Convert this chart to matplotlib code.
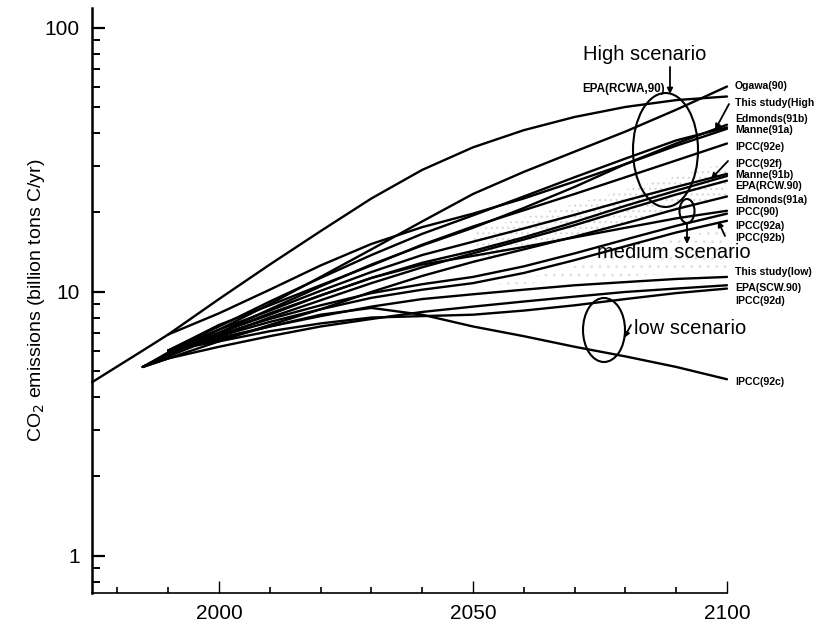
import numpy as np
import matplotlib
matplotlib.use("Agg")
import matplotlib.pyplot as plt
from matplotlib.patches import Ellipse

plt.rcParams['font.family'] = ['Liberation Sans', 'DejaVu Sans']
plt.rcParams['hatch.linewidth'] = 0.8

# ---------------- data ----------------
YEARS = [1975, 1985, 1990, 2000, 2010, 2020, 2030, 2040, 2050, 2060, 2070, 2080, 2090, 2100]
nan = np.nan
EPA_RCWA_90 = [4.55, 6.0, 6.9, 9.4, 12.7, 17.0, 22.6, 29.0, 35.3, 41.0, 46.0, 50.2, 53.3, 55.0]
OGAWA_90    = [nan, 5.2, 5.8, 7.2, 9.0, 11.4, 14.5, 18.5, 23.5, 28.5, 34.0, 40.5, 49.0, 60.0]
THIS_HIGH   = [nan, nan, 6.0, 7.4, 9.2, 11.3, 13.8, 16.6, 19.5, 23.0, 27.2, 32.0, 37.5, 42.0]
EDMONDS_91B = [nan, 5.2, 5.8, 7.0, 8.6, 10.5, 12.7, 15.0, 17.5, 20.8, 25.0, 30.5, 36.5, 43.0]
MANNE_91A   = [nan, nan, 6.9, 8.3, 10.2, 12.6, 15.2, 17.6, 19.8, 22.6, 26.2, 30.5, 35.8, 41.5]
IPCC_92E    = [nan, nan, 6.0, 7.5, 8.9, 10.6, 12.6, 15.1, 17.7, 20.4, 23.5, 27.2, 31.5, 36.5]
IPCC_92F    = [nan, nan, 6.0, 7.2, 8.5, 10.1, 11.9, 13.8, 15.5, 17.4, 19.6, 22.2, 25.0, 28.0]
MANNE_91B   = [nan, 5.2, 5.8, 7.0, 8.2, 9.7, 11.3, 12.9, 14.3, 16.1, 18.4, 21.2, 24.2, 27.5]
EPA_RCW_90  = [nan, 5.2, 5.7, 6.8, 8.0, 9.3, 10.8, 12.4, 14.0, 15.8, 17.9, 20.5, 23.4, 26.4]
EDMONDS_91A = [nan, 5.2, 5.6, 6.5, 7.5, 8.6, 10.0, 11.5, 13.0, 14.5, 16.2, 18.2, 20.6, 23.0]
IPCC_90     = [nan, 5.2, 5.9, 7.0, 8.3, 9.7, 11.3, 12.7, 13.7, 14.8, 16.1, 17.5, 19.0, 20.3]
IPCC_92A    = [nan, nan, 6.0, 6.9, 7.9, 8.9, 9.9, 10.7, 11.4, 12.5, 14.0, 15.8, 17.8, 19.8]
IPCC_92B    = [nan, nan, 6.0, 6.8, 7.7, 8.6, 9.5, 10.2, 10.8, 11.8, 13.2, 14.9, 16.8, 18.6]
THIS_LOW    = [nan, nan, 6.0, 6.7, 7.4, 8.1, 8.8, 9.4, 9.8, 10.2, 10.6, 10.9, 11.2, 11.4]
EPA_SCW_90  = [nan, 5.2, 5.6, 6.2, 6.8, 7.4, 7.9, 8.4, 8.8, 9.2, 9.6, 10.0, 10.3, 10.6]
IPCC_92D    = [nan, nan, 6.0, 6.5, 7.1, 7.6, 8.0, 8.1, 8.2, 8.5, 8.9, 9.4, 9.9, 10.3]
IPCC_92C    = [nan, nan, 6.0, 6.6, 7.4, 8.2, 8.7, 8.2, 7.4, 6.8, 6.2, 5.7, 5.2, 4.67]

SERIES = [EPA_RCWA_90, OGAWA_90, THIS_HIGH, EDMONDS_91B, MANNE_91A, IPCC_92E,
          IPCC_92F, MANNE_91B, EPA_RCW_90, EDMONDS_91A, IPCC_90, IPCC_92A,
          IPCC_92B, THIS_LOW, EPA_SCW_90, IPCC_92D, IPCC_92C]

RIGHT_LABELS = ["Ogawa(90)", "This study(High", "Edmonds(91b)", "Manne(91a)",
                "IPCC(92e)", "IPCC(92f)", "Manne(91b)", "EPA(RCW.90)",
                "Edmonds(91a)", "IPCC(90)", "IPCC(92a)", "IPCC(92b)",
                "This study(low)", "EPA(SCW.90)", "IPCC(92d)", "IPCC(92c)"]
LABEL_ROWS = [86, 103, 119, 130, 147, 164, 175, 186, 200, 212, 226, 238,
              272, 288, 301, 382]          # pixel rows of the labels

X_TICKS = [2000, 2050, 2100]
Y_TICKS = [1, 10, 100]

# ---------------- figure ----------------
W, H = 822, 624
fig = plt.figure(figsize=(W / 100, H / 100), dpi=100)
ax = fig.add_axes([92 / W, (H - 593) / H, (727 - 92) / W, (593 - 8) / H])

yrs = np.array(YEARS, dtype=float)
for s in SERIES:
    v = np.array(s, dtype=float)
    m = ~np.isnan(v)
    ax.plot(yrs[m], v[m], color='black', lw=1.7, solid_capstyle='round',
            solid_joinstyle='round', clip_on=False)

# faint stipple of the medium scenario
yy = yrs[8:]
ax.fill_between(yy, np.array(EDMONDS_91A[8:]), np.array(IPCC_92F[8:]) * 1.1,
                facecolor='none', edgecolor='#d6d6d6', hatch='...', lw=0)
ax.fill_between(yy, np.array(THIS_LOW[8:]) * 1.05, np.array(IPCC_92B[8:]) * 0.95,
                facecolor='none', edgecolor='#e0e0e0', hatch='..', lw=0)

ax.set_yscale('log')
ax.set_xlim(1975, 2100)
ax.set_ylim(0.724, 119)
ax.set_xticks(X_TICKS)
ax.set_xticklabels([str(t) for t in X_TICKS])
ax.set_xticks(np.arange(1980, 2100, 10), minor=True)
ax.set_yticks(Y_TICKS)
ax.set_yticklabels([str(t) for t in Y_TICKS])
ax.tick_params(axis='both', which='major', direction='in', labelsize=15,
               length=9, width=1.0)
ax.tick_params(axis='x', which='major', pad=8)
ax.tick_params(axis='y', which='major', pad=9, width=1.6)
ax.tick_params(axis='both', which='minor', direction='in', length=4.5, width=1.2)
ax.tick_params(axis='y', which='minor', length=5.5, width=1.4)

for sp in ['top', 'right']:
    ax.spines[sp].set_visible(False)
ax.spines['left'].set_linewidth(1.8)
ax.spines['bottom'].set_linewidth(1.2)

ax.set_ylabel('CO$_2$ emissions (billion tons C/yr)', fontsize=14)
ax.yaxis.set_label_coords((47 - 92) / (727 - 92), (593 - 300) / (593 - 8))

# ---------------- annotations (figure pixel coordinates) ----------------
def P(x, y):
    return (x, H - y)

for lab, row in zip(RIGHT_LABELS, LABEL_ROWS):
    fig.text(735 / W, (H - row) / H, lab, fontsize=7.6, fontweight='bold',
             ha='left', va='center')

fig.text(624 / W, (H - 89) / H, 'EPA(RCWA,90)', fontsize=8.4, fontweight='bold',
         ha='center', va='center')
fig.text(645 / W, (H - 55) / H, 'High scenario', fontsize=14.5, ha='center', va='center')
fig.text(674 / W, (H - 253) / H, 'medium scenario', fontsize=14.5, ha='center', va='center')
fig.text(690 / W, (H - 328) / H, 'low scenario', fontsize=14.5, ha='center', va='center')

ft = fig.transFigure
for (cx, cy, w, h) in [(665.5, 150, 65, 114), (687, 211, 15, 24), (604, 330, 42, 64)]:
    e = Ellipse((cx / W, (H - cy) / H), w / W, h / H, transform=ft,
                fill=False, lw=1.5, ec='black')
    fig.patches.append(e)

arrows = [((670, 67), (670, 94)),
          ((729, 104), (715, 130)),
          ((728, 161), (711, 179)),
          ((725, 236), (718, 221)),
          ((687, 223), (687, 244)),
          ((631, 325), (624, 338))]
for (a, b) in arrows:
    ax.annotate('', xy=P(*b), xytext=P(*a), xycoords='figure pixels',
                textcoords='figure pixels',
                arrowprops=dict(arrowstyle='-|>', color='black', lw=1.3,
                                mutation_scale=8, shrinkA=0, shrinkB=0))

fig.savefig('out.png', dpi=100)
